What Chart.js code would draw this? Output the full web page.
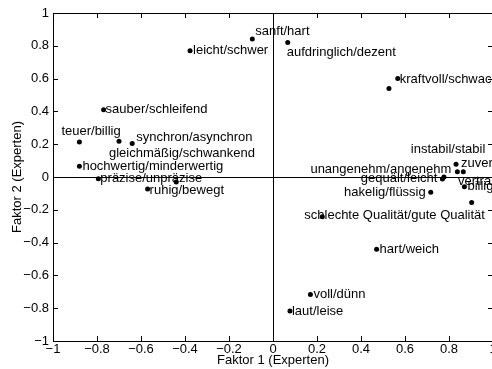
<!DOCTYPE html>
<html>
<head>
<meta charset="utf-8">
<script src="https://cdn.jsdelivr.net/npm/chart.js@4"></script>
<style>
  html, body { margin: 0; padding: 0; background: #fff; overflow: hidden; }
  #wrap { width: 492px; height: 369px; overflow: hidden; }
</style>
</head>
<body>
<div id="wrap"><canvas id="faktor-chart" width="500" height="369"></canvas></div>
<script>
// factor loadings (experts)
const terms = [
    "sanft/hart", "aufdringlich/dezent", "leicht/schwer", "kraftvoll/schwach", "",
    "sauber/schleifend", "teuer/billig", "gleichmäßig/schwankend", "synchron/asynchron",
    "hochwertig/minderwertig", "präzise/unpräzise", "", "ruhig/bewegt",
    "zuverlässig/unzuverlässig", "unangenehm/angenehm", "instabil/stabil", "vertraut/fremd",
    "gequält/leicht", "billig/wertig", "hakelig/flüssig", "",
    "schlechte Qualität/gute Qualität", "hart/weich", "voll/dünn", "laut/leise"
];
const factor1 = [
    -0.094, 0.067, -0.377, 0.567, 0.527,
    -0.77, -0.88, -0.70, -0.64,
    -0.88, -0.794, -0.44, -0.57,
    0.832, 0.838, 0.865, 0.777,
    0.77, 0.87, 0.717, 0.903,
    0.224, 0.471, 0.17, 0.077
];
const factor2 = [
    0.841, 0.82, 0.77, 0.60, 0.54,
    0.41, 0.213, 0.218, 0.205,
    0.065, -0.01, -0.03, -0.073,
    0.077, 0.032, 0.032, 0.0,
    -0.012, -0.059, -0.093, -0.155,
    -0.242, -0.441, -0.716, -0.817
];
const axisTicks = [-1, -0.8, -0.6, -0.4, -0.2, 0, 0.2, 0.4, 0.6, 0.8, 1];

// label placement next to each dot: [dx, dy, align]
const labelPlace = [
    [3, -8, "left"], [-1, 10, "left"], [3, 0, "left"], [2, 1, "left"], null,
    [2, 0, "left"], [-18, -11, "left"], [-10, 12, "left"], [4, -6, "left"],
    [3, 0, "left"], [2, 0, "left"], null, [2, 1, "left"],
    [5, -1, "left"], [-6, -2, "right"], [22, -22, "right"], [14, 4, "left"],
    [-5, -1, "right"], [3, 0, "left"], [-5, 0, "right"], null,
    [-18, -1, "left"], [3, 0, "left"], [3, 0, "left"], [2, 0, "left"]
];

const font = "Liberation Sans, Arial, Helvetica, sans-serif";
const points = factor1.map((x, i) => ({ x: x, y: factor2[i] }));

function fmt(v) {
    let r = Math.round(v * 10) / 10;
    return String(r).replace("-", "\u2212");
}

const frame = {
    id: "frame",
    afterDraw(chart) {
        const ctx = chart.ctx;
        const a = chart.chartArea;
        const xs = chart.scales.x;
        const ys = chart.scales.y;
        ctx.save();
        ctx.strokeStyle = "#000";
        ctx.lineWidth = 1;

        // box
        ctx.strokeRect(Math.round(a.left) + 0.5, Math.round(a.top) + 0.5,
            Math.round(a.right - a.left), Math.round(a.bottom - a.top));

        // zero lines
        const x0 = Math.round(xs.getPixelForValue(0)) + 0.5;
        const y0 = Math.round(ys.getPixelForValue(0)) + 0.5;
        ctx.beginPath();
        ctx.moveTo(x0, a.top); ctx.lineTo(x0, a.bottom);
        ctx.moveTo(a.left, y0); ctx.lineTo(a.right, y0);

        // inward ticks
        const tl = 5;
        axisTicks.forEach(t => {
            const px = Math.round(xs.getPixelForValue(t)) + 0.5;
            ctx.moveTo(px, a.bottom); ctx.lineTo(px, a.bottom - tl);
            ctx.moveTo(px, a.top); ctx.lineTo(px, a.top + tl);
            const py = Math.round(ys.getPixelForValue(t)) + 0.5;
            ctx.moveTo(a.left, py); ctx.lineTo(a.left + tl, py);
            ctx.moveTo(a.right, py); ctx.lineTo(a.right - tl, py);
        });
        ctx.stroke();

        // point labels
        ctx.fillStyle = "#000";
        ctx.font = "13px " + font;
        ctx.textBaseline = "middle";
        terms.forEach((t, i) => {
            if (!t) return;
            const p = labelPlace[i];
            const px = xs.getPixelForValue(factor1[i]);
            const py = ys.getPixelForValue(factor2[i]);
            ctx.textAlign = p[2];
            ctx.fillText(t, px + p[0], py + p[1]);
        });

        // axis titles
        ctx.textAlign = "center";
        ctx.fillText("Faktor 1 (Experten)", xs.getPixelForValue(0), 360);
        ctx.translate(17, ys.getPixelForValue(0));
        ctx.rotate(-Math.PI / 2);
        ctx.fillText("Faktor 2 (Experten)", 0, 0);
        ctx.restore();
    }
};

new Chart(document.getElementById("faktor-chart"), {
    type: "scatter",
    data: {
        datasets: [{
            data: points,
            backgroundColor: "#000",
            borderColor: "#000",
            pointRadius: 2.5,
            pointHoverRadius: 2.5,
            borderWidth: 0
        }]
    },
    options: {
        responsive: false,
        animation: false,
        layout: { padding: { top: 13, right: 7, left: 0, bottom: 0 } },
        scales: {
            x: {
                min: -1, max: 1,
                afterFit: s => { s.height = 28; },
                afterBuildTicks: s => { s.ticks = axisTicks.map(v => ({ value: v })); },
                ticks: {
                    callback: v => fmt(v),
                    color: "#000",
                    padding: 1,
                    maxRotation: 0,
                    autoSkip: false,
                    font: { family: font, size: 13 }
                },
                grid: { display: false, drawTicks: false },
                border: { display: false }
            },
            y: {
                min: -1, max: 1,
                afterFit: s => { s.width = 53; },
                afterBuildTicks: s => { s.ticks = axisTicks.map(v => ({ value: v })); },
                ticks: {
                    callback: v => fmt(v),
                    color: "#000",
                    padding: 4,
                    autoSkip: false,
                    font: { family: font, size: 13 }
                },
                grid: { display: false, drawTicks: false },
                border: { display: false }
            }
        },
        plugins: {
            legend: { display: false },
            tooltip: { enabled: false }
        }
    },
    plugins: [frame]
});
</script>
</body>
</html>
